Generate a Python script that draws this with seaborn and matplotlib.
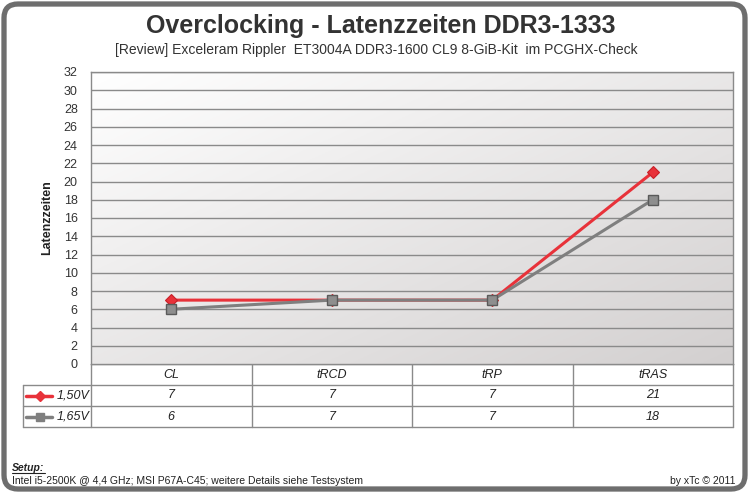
import matplotlib
matplotlib.use("Agg")
import matplotlib.pyplot as plt
import seaborn as sns
import numpy as np
import pandas as pd
from matplotlib.patches import FancyBboxPatch
from matplotlib.lines import Line2D

# data
categories = ["CL", "tRCD", "tRP", "tRAS"]
volt_150 = [7, 7, 7, 21]
volt_165 = [6, 7, 7, 18]
series_names = ["1,50V", "1,65V"]
y_ticks = list(range(0, 33, 2))

RED = "#e8323a"
GREY = "#7f7f7f"
W, H = 749, 493

sns.set_theme(style="white")
plt.rcParams['font.family'] = ['Liberation Sans', 'DejaVu Sans']

fig = plt.figure(figsize=(W / 100, H / 100), dpi=100)

# overlay axes in pixel coords (frame, table, texts)
ov = fig.add_axes([0, 0, 1, 1])
ov.set_xlim(0, W)
ov.set_ylim(H, 0)
ov.axis("off")

# plot area
L, R, T, B = 91, 733, 72, 364
ax = fig.add_axes([L / W, 1 - B / H, (R - L) / W, (B - T) / H])

df = pd.DataFrame({
    "cat": categories * 2,
    "val": volt_150 + volt_165,
    "serie": [series_names[0]] * 4 + [series_names[1]] * 4,
})

# gradient background
gx, gy = np.meshgrid(np.linspace(0, 1, 200), np.linspace(0, 1, 200))
g = (gx + gy) / 2
ax.imshow(g, extent=(-0.5, 3.5, 0, 32), origin="upper", aspect="auto",
          cmap=matplotlib.colors.LinearSegmentedColormap.from_list("bg", ["#ffffff", "#d3d0d0"]),
          zorder=0)

for yt in y_ticks[1:]:
    ax.axhline(yt, color="#8a8a8a", lw=1.0, zorder=1)

# red first, grey drawn on top (as in the original)
sns.lineplot(data=df[df.serie == series_names[0]], x="cat", y="val", ax=ax, color=RED,
             lw=2.2, marker="D", markersize=6, markerfacecolor=RED,
             markeredgecolor="#c82028", markeredgewidth=0.8, zorder=3, sort=False)
sns.lineplot(data=df[df.serie == series_names[1]], x="cat", y="val", ax=ax, color=GREY,
             lw=2.2, marker="s", markersize=6.5, markerfacecolor="#8e8e8e",
             markeredgecolor="#5a5a5a", markeredgewidth=1, zorder=4, sort=False)

ax.set_xlim(-0.5, 3.5)
ax.set_ylim(0, 32)
ax.set_yticks(y_ticks)
ax.set_xticks([])
ax.tick_params(axis="y", length=0, labelsize=9, colors="#333333", pad=9.5)
ax.set_xlabel("")
ax.set_ylabel("Latenzzeiten", fontsize=9, fontweight="bold", color="#222222", labelpad=8)
for s in ax.spines.values():
    s.set_color("#8a8a8a")
    s.set_linewidth(1)

# outer rounded frame
ov.add_patch(FancyBboxPatch((4, 4), W - 8, H - 8, boxstyle="round,pad=0,rounding_size=14",
                            fill=False, ec="#6e6e6e", lw=3.8))

# titles
ov.text(W / 2 + 6, 26, "Overclocking - Latenzzeiten DDR3-1333", ha="center", va="center",
        fontsize=18, fontweight="bold", color="#333333")
ov.text(W / 2 + 2, 50, "[Review] Exceleram Rippler  ET3004A DDR3-1600 CL9 8-GiB-Kit  im PCGHX-Check",
        ha="center", va="center", fontsize=10, color="#333333")

# data table
tl, tr = 23, R
rows = [364, 385, 406, 427]
lc = "#8a8a8a"
ov.plot([L, tr], [rows[0], rows[0]], color=lc, lw=1)
for yy in rows[1:]:
    ov.plot([tl, tr], [yy, yy], color=lc, lw=1)
ov.plot([tl, tl], [rows[1], rows[3]], color=lc, lw=1)
col_w = (R - L) / len(categories)
for i in range(len(categories) + 1):
    xx = L + i * col_w
    ov.plot([xx, xx], [rows[0], rows[3]], color=lc, lw=1)

for i, c in enumerate(categories):
    xc = L + (i + 0.5) * col_w
    ov.text(xc, (rows[0] + rows[1]) / 2, c, ha="center", va="center", fontsize=9,
            style="italic", color="#222222")
    ov.text(xc, (rows[1] + rows[2]) / 2, str(volt_150[i]), ha="center", va="center",
            fontsize=9, style="italic", color="#222222")
    ov.text(xc, (rows[2] + rows[3]) / 2, str(volt_165[i]), ha="center", va="center",
            fontsize=9, style="italic", color="#222222")

# legend keys in table
for r, name, col, mk, ms in [(0, series_names[0], RED, "D", 5), (1, series_names[1], GREY, "s", 5.5)]:
    yc = (rows[r + 1] + rows[r + 2]) / 2
    ov.add_line(Line2D([26, 52], [yc, yc], color=col, lw=2.5))
    ov.add_line(Line2D([39.5], [yc], marker=mk, markersize=ms, color=col, markeredgecolor=col))
    ov.text(90, yc, name, ha="right", va="center", fontsize=9, style="italic", color="#222222")

# footer
ov.text(12, 468, "Setup:", ha="left", va="center", fontsize=7.5, fontweight="bold",
        style="italic", color="#222222")
ov.plot([12, 45], [473, 473], color="#222222", lw=0.8)
ov.text(12, 481, "Intel i5-2500K @ 4,4 GHz; MSI P67A-C45; weitere Details siehe Testsystem",
        ha="left", va="center", fontsize=7.5, color="#222222")
ov.text(736, 481, "by xTc \u00a9 2011", ha="right", va="center", fontsize=7.5, color="#222222")

fig.savefig("out.png", dpi=100)
